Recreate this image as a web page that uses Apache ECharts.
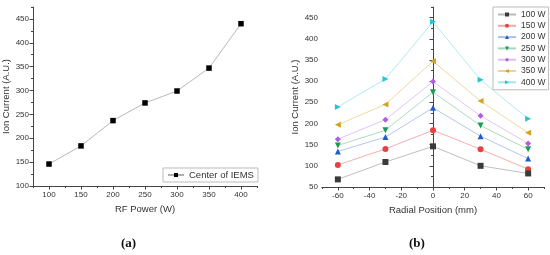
<!DOCTYPE html>
<html>
<head>
<meta charset="utf-8">
<script src="https://cdn.jsdelivr.net/npm/echarts@6/dist/echarts.min.js"></script>
<style>
  html, body { margin: 0; padding: 0; background: #fff; }
  #chart { width: 550px; height: 255px; }
</style>
</head>
<body>
<div id="chart"></div>
<script>
  // (a) ion current vs RF power
  var powers = [100, 150, 200, 250, 300, 350, 400];
  var centerCurrent = [146, 184, 237, 274, 299, 347, 440];

  // (b) ion current vs radial position
  var positions = [-60, -30, 0, 30, 60];
  var powerNames = ['100 W', '150 W', '200 W', '250 W', '300 W', '350 W', '400 W'];
  var radial100 = [68, 109, 146, 100, 82];
  var radial150 = [102, 140, 184, 139, 92];
  var radial200 = [134, 168, 237, 170, 117];
  var radial250 = [148, 184, 274, 195, 139];
  var radial300 = [163, 209, 299, 218, 153];
  var radial350 = [197, 245, 347, 253, 178];
  var radial400 = [239, 305, 440, 303, 211];
  var radialAll = [radial100, radial150, radial200, radial250, radial300, radial350, radial400];

  // tick labels
  var powerTicks = [100, 150, 200, 250, 300, 350, 400];
  var currentTicksA = [100, 150, 200, 250, 300, 350, 400, 450];
  var positionTicks = [-60, -40, -20, 0, 20, 40, 60];
  var currentTicksB = [50, 100, 150, 200, 250, 300, 350, 400, 450];

  var markColors = ['#3a3a3a', '#e8413f', '#1f5ccf', '#199c55', '#b15ce6', '#d6a21c', '#23c6d6'];
  var lineColors = ['#b8b8b8', '#f4a6a6', '#a9c0ee', '#a3d8ba', '#dcc0f4', '#ecd497', '#a7e6ec'];
  var symbols = ['rect', 'circle', 'triangle', 'triangle', 'diamond', 'triangle', 'triangle'];
  var rotates = [0, 0, 0, 180, 0, 90, -90];

  var axisCol = '#444';
  var txtCol = '#333';
  var font = 'Arial, "Liberation Sans", sans-serif';

  function pair(xs, ys) {
    return xs.map(function (x, i) { return [x, ys[i]]; });
  }

  // main axis: line + major ticks + labels; minor axis: small ticks only
  function mainAxis(grid, min, max, ticks, name, gap, isY) {
    return {
      type: 'value', gridIndex: grid, min: min, max: max,
      position: isY ? 'left' : 'bottom',
      name: name, nameLocation: 'middle', nameGap: gap,
      nameTextStyle: { color: txtCol, fontSize: 9.5, fontFamily: font },
      axisLine: { show: true, lineStyle: { color: axisCol, width: 1 } },
      axisTick: { show: true, customValues: ticks, length: 3.5, lineStyle: { color: axisCol } },
      axisLabel: { customValues: ticks, color: txtCol, fontSize: 8, fontFamily: font, margin: isY ? 4 : 5 },
      splitLine: { show: false }
    };
  }
  function minorAxis(grid, min, max, step, isY) {
    return {
      type: 'value', gridIndex: grid, min: min, max: max, interval: step,
      position: isY ? 'left' : 'bottom',
      axisLine: { show: false },
      axisTick: { show: true, length: 2, lineStyle: { color: axisCol } },
      axisLabel: { show: false },
      splitLine: { show: false }
    };
  }

  var series = [{
    name: 'Center of IEMS', type: 'line', xAxisIndex: 0, yAxisIndex: 0,
    data: pair(powers, centerCurrent),
    symbol: 'rect', symbolSize: 5.5,
    itemStyle: { color: '#000' },
    lineStyle: { color: '#b0b0b0', width: 0.9 }
  }];
  radialAll.forEach(function (vals, i) {
    series.push({
      name: powerNames[i], type: 'line', xAxisIndex: 2, yAxisIndex: 2,
      data: pair(positions, vals),
      symbol: symbols[i], symbolSize: 6, symbolRotate: rotates[i],
      itemStyle: { color: markColors[i] },
      lineStyle: { color: lineColors[i], width: 0.9 },
      z: 10 - i
    });
  });

  var chart = echarts.init(document.getElementById('chart'), null, { renderer: 'canvas' });
  chart.setOption({
    animation: false,
    backgroundColor: '#fff',
    grid: [
      { left: 33, right: 293, top: 7, bottom: 69 },
      { left: 322, right: 6, top: 7, bottom: 68 }
    ],
    xAxis: [
      mainAxis(0, 75, 425, powerTicks, 'RF Power (W)', 18, false),
      minorAxis(0, 75, 425, 25, false),
      mainAxis(1, -70, 70, positionTicks, 'Radial Position (mm)', 18, false),
      minorAxis(1, -70, 70, 10, false)
    ],
    yAxis: [
      mainAxis(0, 100, 475, currentTicksA, 'Ion Current (A.U.)', 18.5, true),
      minorAxis(0, 100, 475, 25, true),
      mainAxis(1, 50, 475, currentTicksB, 'Ion Current (A.U.)', 17.5, true),
      minorAxis(1, 50, 475, 25, true)
    ],
    legend: [{
      data: ['Center of IEMS'], left: 163, top: 168, orient: 'vertical',
      backgroundColor: '#fff', borderColor: '#bbb', borderWidth: 1, borderRadius: 0,
      padding: [2, 4, 2, 4], itemWidth: 16, itemHeight: 5,
      textStyle: { color: txtCol, fontSize: 9.5, fontFamily: font }
    }, {
      data: powerNames, left: 493, top: 7, orient: 'vertical',
      backgroundColor: '#fff', borderColor: '#bbb', borderWidth: 1, borderRadius: 0,
      padding: [3, 3, 3, 4], itemWidth: 18, itemHeight: 5, itemGap: 2.3,
      textStyle: { color: txtCol, fontSize: 8.5, lineHeight: 9, fontFamily: font }
    }],
    graphic: [
      { type: 'text', left: 121, top: 237, style: { text: '(a)', fontSize: 13, fontWeight: 'bold', fontFamily: '"Liberation Serif", serif', fill: '#111' } },
      { type: 'text', left: 409, top: 237, style: { text: '(b)', fontSize: 13, fontWeight: 'bold', fontFamily: '"Liberation Serif", serif', fill: '#111' } }
    ],
    series: series
  });
</script>
</body>
</html>
